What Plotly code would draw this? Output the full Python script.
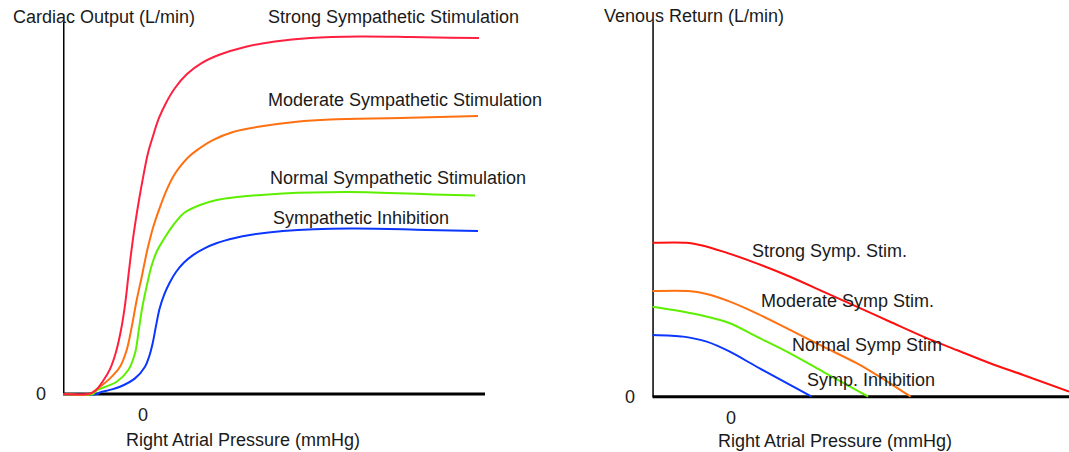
import plotly.graph_objects as go

W, H = 1069, 452

# ---- Cardiac output curves (x: right atrial pressure, mmHg; y: L/min) ----
co_strong_x = [-4, -2.75, -2.4, -2.0, -1.65, -1.35, -1.1, -0.9, -0.725, -0.575, -0.4, -0.2, 0.025, 0.25,
               0.5, 0.8, 1.15, 1.6, 2.2, 2.95, 3.85, 5.1, 6.6, 8.35, 10.85, 13.35, 15.35, 16.8]
co_strong_y = [0, 0, 0.16, 0.7, 1.34, 2.26, 3.44, 4.78, 6.4, 7.74, 9.09, 10.43, 11.77, 12.96,
               13.87, 14.84, 15.65, 16.45, 17.2, 17.8, 18.25, 18.66, 18.95, 19.14, 19.22, 19.19, 19.15, 19.14]

co_moderate_x = [-4, -2.65, -2.485, -2.1, -1.65, -1.15, -0.815, -0.565, -0.315, -0.065, 0.215, 0.515,
                 0.85, 1.185, 1.5, 1.85, 2.25, 2.685, 3.515, 4.5, 5.85, 7.685, 9.35, 12.85, 16.75]
co_moderate_y = [0, 0, 0.12, 0.43, 0.84, 1.47, 2.37, 3.6, 5.05, 6.29, 7.74, 8.99,
                 10.05, 10.97, 11.67, 12.22, 12.72, 13.1, 13.66, 14.09, 14.38, 14.64, 14.76, 14.84, 14.95]

co_normal_x = [-4, -2.5, -2.315, -1.85, -1.315, -0.735, -0.4, -0.225, -0.05, 0.175, 0.425, 0.7,
               1.015, 1.35, 1.7, 2.05, 2.85, 3.685, 4.5, 7.0, 10.35, 14.5, 16.6]
co_normal_y = [0, 0, 0.2, 0.4, 0.66, 1.29, 2.19, 3.33, 4.57, 5.75, 6.88, 7.69,
               8.28, 8.84, 9.33, 9.73, 10.16, 10.43, 10.56, 10.78, 10.86, 10.73, 10.67]

co_inhib_x = [-4, -2.3, -2.15, -1.65, -1.15, -0.4, 0.1, 0.3, 0.475, 0.65, 0.825, 1.05, 1.325, 1.65,
              2.05, 2.5, 3.05, 3.7, 4.6, 5.35, 7.0, 10.35, 14.15, 16.75]
co_inhib_y = [0, 0, 0.09, 0.22, 0.39, 0.84, 1.47, 1.99, 2.69, 3.66, 4.57, 5.32, 5.97, 6.56,
              7.07, 7.47, 7.82, 8.12, 8.39, 8.55, 8.76, 8.9, 8.82, 8.76]

# ---- Venous return curves ----
vr_strong_x = [-3.92, -2.2, -1.54, -0.37, 1.3, 2.97, 4.63, 6.3, 7.97, 9.63, 11.3, 12.97, 14.63, 16.92]
vr_strong_y = [8.28, 8.28, 8.16, 7.8, 7.17, 6.45, 5.65, 4.84, 4.03, 3.23, 2.51, 1.8, 1.17, 0.27]

vr_moderate_x = [-3.92, -2.12, -1.2, -0.04, 1.3, 2.97, 4.63, 6.3, 7.97, 9.0]
vr_moderate_y = [5.68, 5.68, 5.52, 5.11, 4.48, 3.59, 2.69, 1.8, 0.72, 0]

vr_normal_x = [-3.92, -2.87, -1.54, -0.04, 1.3, 2.97, 4.63, 6.88]
vr_normal_y = [4.84, 4.66, 4.39, 3.95, 3.23, 2.33, 1.34, 0]

vr_inhib_x = [-3.92, -2.37, -1.2, -0.04, 1.3, 2.97, 4.05]
vr_inhib_y = [3.32, 3.23, 2.96, 2.42, 1.61, 0.63, 0]

co_labels = ["Strong Sympathetic Stimulation", "Moderate Sympathetic Stimulation",
             "Normal Sympathetic Stimulation", "Sympathetic Inhibition"]
vr_labels = ["Strong Symp. Stim.", "Moderate Symp Stim.", "Normal Symp Stim", "Symp. Inhibition"]

co_colors = ["#ff2040", "#ff7010", "#5cf000", "#0a36ff"]
vr_colors = ["#ff1010", "#ff7010", "#5cf000", "#0a36ff"]

FONT = "Liberation Sans, Arial, sans-serif"
TXT = "#1a1a1a"

# pixel scale used to lay out the panels
PX_X = 20.0    # px per mmHg
PX_Y = 18.6    # px per L/min
Y_PAD = 0.15   # small room below zero so curves resting on the axis stay visible

fig = go.Figure()

co_series = [(co_strong_x, co_strong_y), (co_moderate_x, co_moderate_y),
             (co_normal_x, co_normal_y), (co_inhib_x, co_inhib_y)]
vr_series = [(vr_strong_x, vr_strong_y), (vr_moderate_x, vr_moderate_y),
             (vr_normal_x, vr_normal_y), (vr_inhib_x, vr_inhib_y)]

for (xs, ys), c in zip(reversed(co_series), reversed(co_colors)):
    fig.add_trace(go.Scatter(x=xs, y=ys, mode="lines", xaxis="x", yaxis="y",
                             line=dict(color=c, width=2, shape="spline", smoothing=1.0),
                             hoverinfo="skip"))
for (xs, ys), c in zip(reversed(vr_series), reversed(vr_colors)):
    fig.add_trace(go.Scatter(x=xs, y=ys, mode="lines", xaxis="x2", yaxis="y2",
                             line=dict(color=c, width=2, shape="spline", smoothing=0.8),
                             hoverinfo="skip"))

left_zero_px, right_zero_px, top_px = 394.0, 396.7, 22.0
left_top = (left_zero_px - top_px) / PX_Y
right_top = (right_zero_px - top_px) / PX_Y

ax_common = dict(showgrid=False, zeroline=False, showline=False, showticklabels=False, ticks="")
fig.update_layout(
    width=W, height=H,
    margin=dict(l=0, r=0, t=0, b=0),
    paper_bgcolor="white", plot_bgcolor="white",
    showlegend=False,
    font=dict(family=FONT, size=18, color=TXT),
    xaxis=dict(domain=[63 / W, 485 / W], range=[-4, 17.1], **ax_common),
    yaxis=dict(domain=[1 - (left_zero_px + Y_PAD * PX_Y) / H, 1 - top_px / H],
               range=[-Y_PAD, left_top], **ax_common),
    xaxis2=dict(domain=[652.3 / W, 1], range=[-3.92, 16.92], anchor="y2", **ax_common),
    yaxis2=dict(domain=[1 - (right_zero_px + Y_PAD * PX_Y) / H, 1 - top_px / H],
                range=[-Y_PAD, right_top], anchor="x2", **ax_common),
)

# axes drawn as black lines beneath the curves
axis_line = dict(color="black", width=3)
fig.add_shape(type="line", xref="x", yref="y", x0=-4, y0=0, x1=17.1, y1=0, line=axis_line, layer="below")
fig.add_shape(type="line", xref="x", yref="y", x0=-4, y0=0, x1=-4, y1=left_top, line=axis_line, layer="below")
fig.add_shape(type="line", xref="x2", yref="y2", x0=-3.92, y0=0, x1=16.92, y1=0, line=axis_line, layer="below")
fig.add_shape(type="line", xref="x2", yref="y2", x0=-3.92, y0=0, x1=-3.92, y1=right_top, line=axis_line, layer="below")

ann = []
def text(s, x, y, xref, yref, xanchor="center", yanchor="middle", xshift=0, yshift=0):
    ann.append(dict(text=s, x=x, y=y, xref=xref, yref=yref, xanchor=xanchor, yanchor=yanchor,
                    xshift=xshift, yshift=yshift, showarrow=False,
                    font=dict(family=FONT, size=18, color=TXT)))

# tick labels
text("0", 0, 0, "x", "y", yshift=-21)
text("0", -4, 0, "x", "y", xshift=-22)
text("0", 0, 0, "x2", "y2", yshift=-21)
text("0", -3.92, 0, "x2", "y2", xshift=-22)

# axis titles
text("Right Atrial Pressure (mmHg)", 5.0, 0, "x", "y", yshift=-46)
text("Right Atrial Pressure (mmHg)", 5.2, 0, "x2", "y2", yshift=-44)
text("Cardiac Output (L/min)", 11 / W, 1 - 17 / H, "paper", "paper", xanchor="left")
text("Venous Return (L/min)", 602 / W, 1 - 16 / H, "paper", "paper", xanchor="left")

# curve labels (the top one sits above the plotting area, so it is placed on the page)
text(co_labels[0], 266 / W, 1 - 17 / H, "paper", "paper", xanchor="left")
co_label_pos = [(6.25, 15.81), (6.35, 11.61), (6.5, 9.46)]
for s, (x, y) in zip(co_labels[1:], co_label_pos):
    text(s, x, y, "x", "y", xanchor="left", xshift=-2)
vr_label_pos = [(1.08, 7.85), (1.52, 5.15), (3.08, 2.78), (3.83, 0.9)]
for s, (x, y) in zip(vr_labels, vr_label_pos):
    text(s, x, y, "x2", "y2", xanchor="left", xshift=-2)

fig.update_layout(annotations=ann)
fig.write_html("out.html")
